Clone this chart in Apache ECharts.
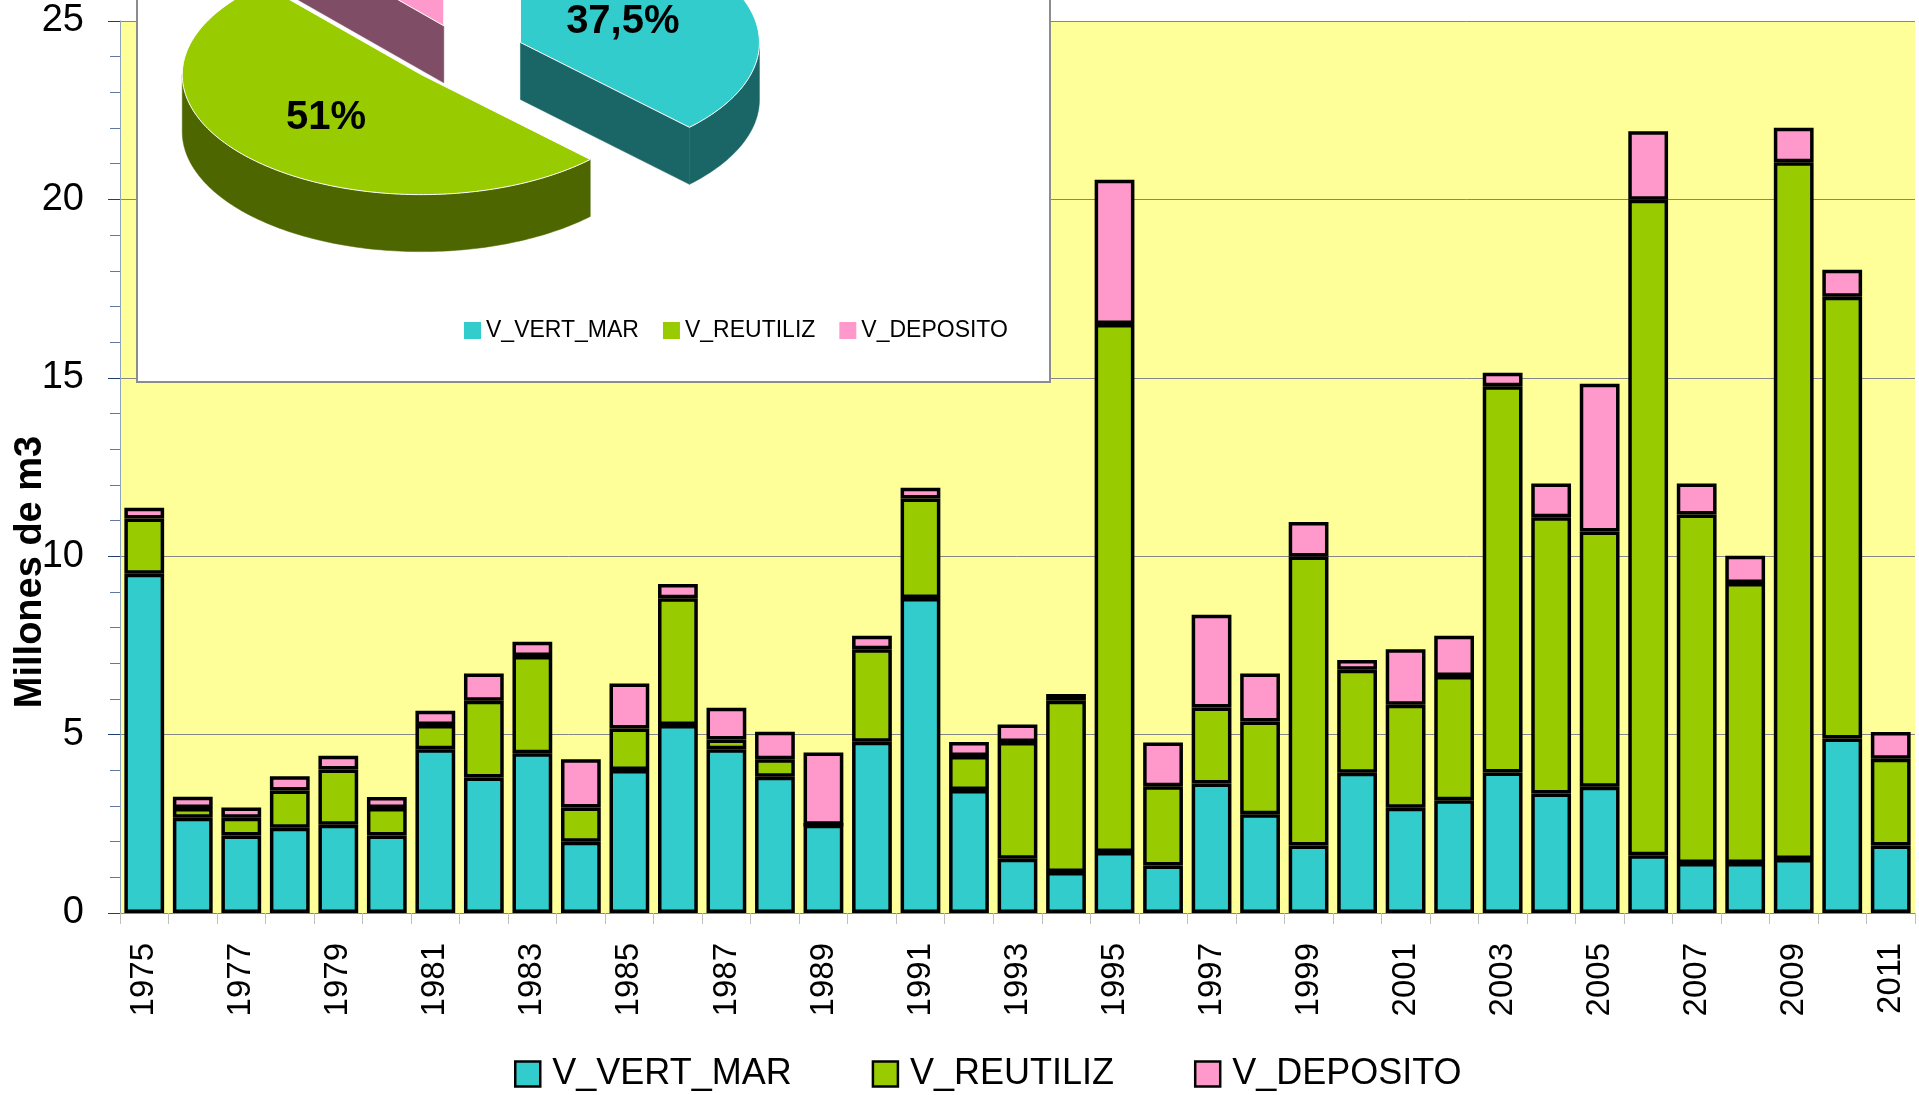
<!DOCTYPE html>
<html>
<head>
<meta charset="utf-8">
<script src="https://cdn.jsdelivr.net/npm/echarts@6/dist/echarts.min.js"></script>
<style>
  html, body { margin: 0; padding: 0; background: #fff; }
  #chart { width: 1919px; height: 1095px; }
</style>
</head>
<body>
<div id="chart"></div>
<script>
const years = ['1975', '1976', '1977', '1978', '1979', '1980', '1981', '1982', '1983', '1984',
  '1985', '1986', '1987', '1988', '1989', '1990', '1991', '1992', '1993', '1994',
  '1995', '1996', '1997', '1998', '1999', '2000', '2001', '2002', '2003', '2004',
  '2005', '2006', '2007', '2008', '2009', '2010', '2011']
const vertMar = [9.51, 2.67, 2.17, 2.39, 2.47, 2.17, 4.59, 3.80, 4.48, 2.00,
  4.01, 5.27, 4.59, 3.82, 2.47, 4.80, 8.83, 3.45, 1.52, 1.15,
  1.71, 1.33, 3.63, 2.77, 1.89, 3.93, 2.95, 3.16, 3.94, 3.35,
  3.54, 1.62, 1.40, 1.40, 1.51, 4.89, 1.89]
const reutiliz = [1.55, 0.27, 0.50, 1.04, 1.55, 0.77, 0.68, 2.15, 2.72, 0.96,
  1.16, 3.55, 0.27, 0.49, 0, 2.59, 2.79, 0.95, 3.27, 4.80,
  14.80, 2.22, 2.13, 2.60, 8.10, 2.89, 2.89, 3.48, 10.82, 7.74,
  7.15, 18.37, 9.77, 7.85, 19.53, 12.38, 2.43]
const deposito = [0.30, 0.32, 0.29, 0.40, 0.39, 0.31, 0.40, 0.76, 0.40, 1.35,
  1.26, 0.40, 0.89, 0.77, 2.03, 0.38, 0.30, 0.39, 0.49, 0.19,
  4.04, 1.23, 2.60, 1.34, 0.97, 0.27, 1.55, 1.13, 0.38, 0.95,
  4.14, 1.92, 0.87, 0.76, 0.97, 0.76, 0.75]
const seriesNames = ['V_VERT_MAR', 'V_REUTILIZ', 'V_DEPOSITO']
const pieShares = [37.5, 51, 11.5]
const pieLabels = ['37,5%', '51%', '11,5%']

const topColors = ['#33CCCC', '#99CC00', '#FF99CC']
const sideColors = ['#1A6666', '#4D6600', '#804D66']

// 3D pie geometry (excel style, clockwise from 12 o'clock, exploded)
const PIE = { cx: 465, cy: 54, rx: 239, ry: 120, h: 57, explode: 60 }

function piePoint(cx, cy, a, r, dy) {
  return [cx + r * PIE.rx * Math.sin(a), cy - r * PIE.ry * Math.cos(a) + (dy || 0)]
}

function arcPoints(cx, cy, a0, a1, dy) {
  const pts = []
  const n = Math.max(2, Math.ceil((a1 - a0) / 0.02))
  for (let k = 0; k <= n; k++) {
    pts.push(piePoint(cx, cy, a0 + (a1 - a0) * k / n, 1, dy))
  }
  return pts
}

function makePieRender(part) {
  return function (params, api) {
    const i = params.dataIndex
    const total = pieShares.reduce((s, v) => s + v, 0)
    let before = 0
    for (let j = 0; j < i; j++) before += pieShares[j]
    const a0 = before / total * Math.PI * 2
    const a1 = (before + api.value(0)) / total * Math.PI * 2
    const mid = (a0 + a1) / 2
    const cx = PIE.cx + PIE.explode * Math.sin(mid)
    const cy = PIE.cy - PIE.explode * (PIE.ry / PIE.rx) * Math.cos(mid)
    const children = []
    if (part === 'side') {
      const side = { fill: sideColors[i], stroke: sideColors[i], lineWidth: 0.5 }
      // outer wall, only the front half
      const w0 = Math.max(a0, Math.PI / 2)
      const w1 = Math.min(a1, Math.PI * 1.5)
      if (w1 > w0) {
        const topArc = arcPoints(cx, cy, w0, w1, 0)
        const botArc = arcPoints(cx, cy, w0, w1, PIE.h).reverse()
        children.push({ type: 'polygon', shape: { points: topArc.concat(botArc) }, style: side })
      }
      // radial walls facing the viewer
      const walls = []
      if (Math.sin(a0) < -1e-6) walls.push(a0)
      if (Math.sin(a1) > 1e-6) walls.push(a1)
      walls.forEach(a => {
        const p = piePoint(cx, cy, a, 1, 0)
        children.push({
          type: 'polygon',
          shape: { points: [[cx, cy], p, [p[0], p[1] + PIE.h], [cx, cy + PIE.h]] },
          style: side
        })
      })
    } else {
      const pts = [[cx, cy]].concat(arcPoints(cx, cy, a0, a1, 0))
      children.push({
        type: 'polygon',
        shape: { points: pts },
        style: { fill: topColors[i], stroke: '#ffffff', lineWidth: 1 }
      })
      const lp = piePoint(cx, cy, mid, 0.5, 0)
      children.push({
        type: 'text',
        x: lp[0] - 8, y: lp[1] + 2,
        style: {
          text: pieLabels[i], fill: '#000', align: 'center', verticalAlign: 'middle',
          font: 'bold 40px "Liberation Sans", Arial, sans-serif'
        }
      })
    }
    return { type: 'group', children: children }
  }
}

const chart = echarts.init(document.getElementById('chart'))

const barData = [vertMar, reutiliz, deposito]
const barSeries = seriesNames.map((name, k) => ({
  name: name,
  type: 'bar',
  stack: 'vol',
  barWidth: '82%',
  z: 2,
  itemStyle: { color: topColors[k], borderColor: '#000', borderWidth: 3.5 },
  data: barData[k]
}))

const option = {
  backgroundColor: '#ffffff',
  animation: false,
  grid: {
    left: 120, right: 4, top: 21, bottom: 182,
    show: true, backgroundColor: '#FFFF99', borderWidth: 0
  },
  legend: [
    {
      data: seriesNames,
      icon: 'rect',
      left: 514, top: 1056, padding: 0,
      itemWidth: 25, itemHeight: 25, itemGap: 80,
      textStyle: { fontFamily: 'Liberation Sans', fontSize: 36, color: '#000', padding: [0, 0, 0, 7] },
      itemStyle: { borderColor: '#000', borderWidth: 2.5 }
    },
    {
      data: seriesNames,
      icon: 'rect',
      left: 459, top: 314,
      z: 12,
      itemWidth: 17, itemHeight: 17, itemGap: 24,
      textStyle: { fontFamily: 'Liberation Sans', fontSize: 23, color: '#000' },
      itemStyle: { borderWidth: 0 }
    }
  ],
  xAxis: {
    type: 'category',
    data: years,
    boundaryGap: true,
    axisLine: { lineStyle: { color: '#868686', width: 1 } },
    axisTick: { show: true, interval: 0, length: 11, lineStyle: { color: '#C0C0C0' } },
    axisLabel: {
      interval: 1, rotate: 90, margin: 30,
      fontFamily: 'Liberation Sans', fontSize: 33, color: '#000'
    }
  },
  yAxis: {
    type: 'value',
    min: 0, max: 25, interval: 5,
    axisLine: { show: true, lineStyle: { color: '#8EA4BE', width: 1 } },
    axisTick: { show: true, length: 12, lineStyle: { color: '#1F3F6F' } },
    minorTick: { show: true, splitNumber: 5, length: 10, lineStyle: { color: '#5E7A9E' } },
    splitLine: { show: true, lineStyle: { color: '#868686', width: 1 } },
    axisLabel: { margin: 36, fontFamily: 'Liberation Sans', fontSize: 38, color: '#000' }
  },
  graphic: [
    {
      type: 'rect', z: 5,
      shape: { x: 137, y: -10, width: 913, height: 392 },
      style: { fill: '#ffffff', stroke: '#8C8C8C', lineWidth: 2 }
    },
    {
      type: 'text', z: 20,
      x: 31, y: 572, rotation: Math.PI / 2,
      style: {
        text: 'Millones de m3', fill: '#000', align: 'center', verticalAlign: 'middle',
        font: 'bold 38px "Liberation Sans", Arial, sans-serif'
      }
    }
  ],
  series: barSeries.concat([
    {
      name: 'pieSide', type: 'custom', coordinateSystem: 'none', z: 10, silent: true,
      renderItem: makePieRender('side'),
      data: pieShares.map(v => [v])
    },
    {
      name: 'pieTop', type: 'custom', coordinateSystem: 'none', z: 11, silent: true,
      renderItem: makePieRender('top'),
      data: pieShares.map(v => [v])
    }
  ])
}

chart.setOption(option)
window.onresize = function () {
  chart.resize()
}
</script>
</body>
</html>
